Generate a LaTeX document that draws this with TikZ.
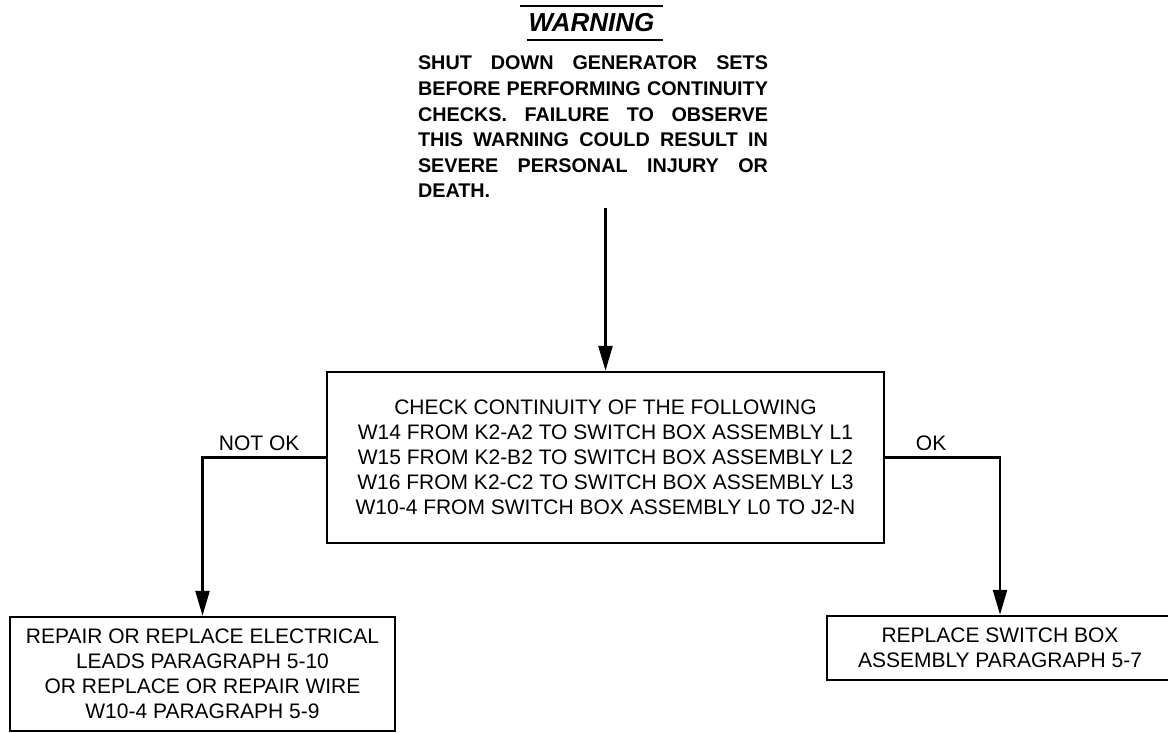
\documentclass[tikz,border=0pt]{standalone}
\usepackage{fontspec}
\setmainfont{Liberation Sans}
\usepackage{tikz}
\usetikzlibrary{arrows.meta}
\newcommand{\wline}[1]{{\spaceskip=0pt\xspaceskip=0pt\makebox[350pt][s]{#1}}}

\begin{document}
\begin{tikzpicture}[x=1pt,y=-1pt,>={Triangle[length=25pt,width=14pt]},
  caja/.style={draw,line width=2.5pt,align=center,inner sep=0pt,font=\fontsize{21}{25}\selectfont},
  flecha/.style={->,line width=2.5pt},
  rotulo/.style={font=\fontsize{21}{25}\selectfont,inner sep=0pt,above=6pt}]
  \useasboundingbox (0,0) rectangle (1168,733);
  \node[font=\fontsize{26}{30}\selectfont\bfseries\itshape,minimum width=143pt,minimum height=34pt,inner sep=0pt] (titulo) at (591.5,23) {WARNING};
  \draw[line width=2pt] (titulo.north west) -- (titulo.north east);
  \draw[line width=2pt] ([xshift=7pt]titulo.south west) -- (titulo.south east);
  \node[text width=350pt,align=left,inner sep=0pt,font=\fontsize{19.8}{25.6}\selectfont\bfseries] (aviso) at (593,127)
    {\wline{SHUT DOWN GENERATOR SETS}\\
     \wline{BEFORE PERFORMING CONTINUITY}\\
     \wline{CHECKS. FAILURE TO OBSERVE}\\
     \wline{THIS WARNING COULD RESULT IN}\\
     \wline{SEVERE PERSONAL INJURY OR}\\
     DEATH.};
  \node[caja,minimum width=557pt,minimum height=171pt] (chequeo) at (605.5,457.5)
    {CHECK CONTINUITY OF THE FOLLOWING\\
     W14 FROM K2-A2 TO SWITCH BOX ASSEMBLY L1\\
     W15 FROM K2-B2 TO SWITCH BOX ASSEMBLY L2\\
     W16 FROM K2-C2 TO SWITCH BOX ASSEMBLY L3\\
     W10-4 FROM SWITCH BOX ASSEMBLY L0 TO J2-N};
  \node[caja,minimum width=385pt,minimum height=114pt] (reparar) at (202.5,674)
    {REPAIR OR REPLACE ELECTRICAL\\
     LEADS PARAGRAPH 5-10\\
     OR REPLACE OR REPAIR WIRE\\
     W10-4 PARAGRAPH 5-9};
  \node[caja,minimum width=346pt,minimum height=64pt] (reemplazar) at (1000,648)
    {REPLACE SWITCH BOX\\
     ASSEMBLY PARAGRAPH 5-7};
  \draw[flecha] ([yshift=-10pt]aviso.south -| chequeo.north) -- (chequeo.north);
  \draw[flecha] (chequeo.west) -| node[rotulo,pos=0.27] (nook) {NOT OK} (reparar.north);
  \draw[flecha] (chequeo.east) -| node[rotulo,pos=0.2] (ok) {OK} (reemplazar.north);
\end{tikzpicture}
\end{document}
